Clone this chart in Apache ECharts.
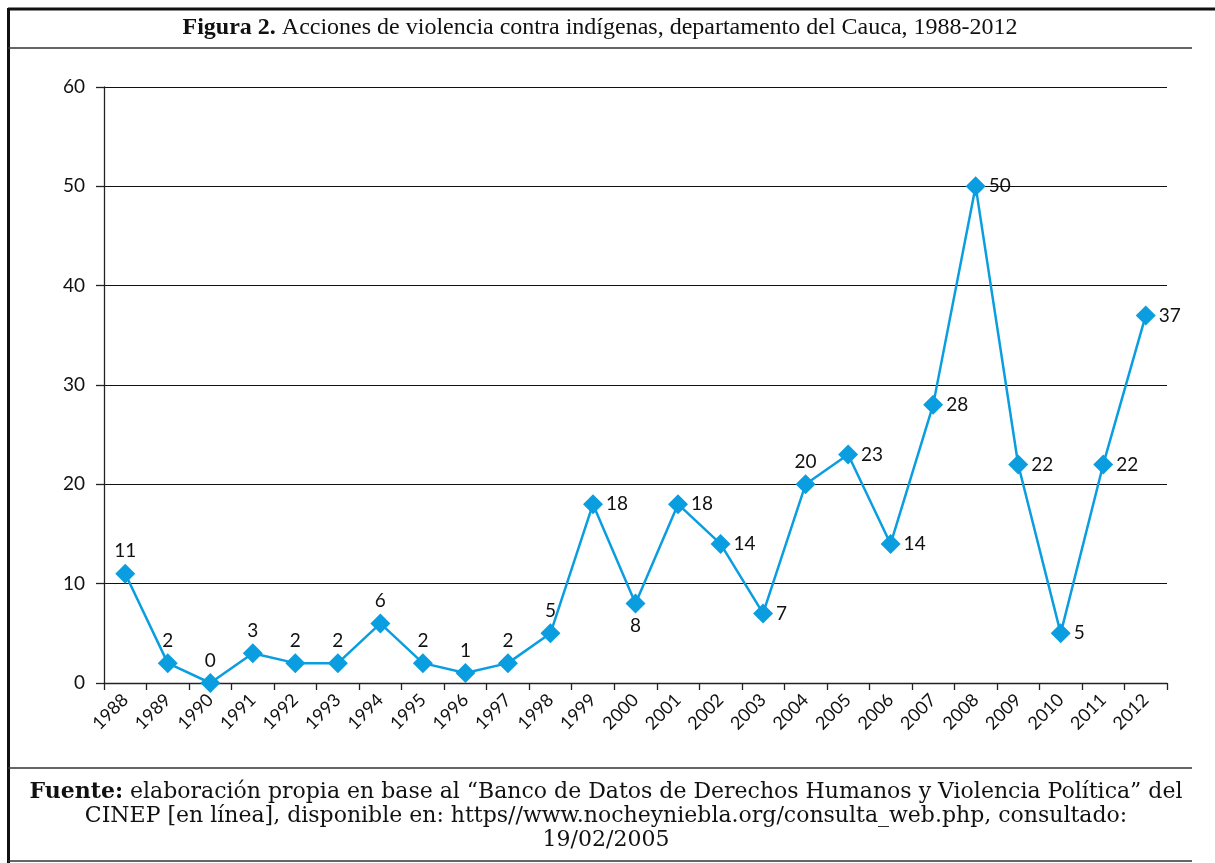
<!DOCTYPE html>
<html><head><meta charset="utf-8">
<script src="https://cdn.jsdelivr.net/npm/echarts@6/dist/echarts.min.js"></script>
<style>html,body{margin:0;padding:0;background:#fff}#c{width:1215px;height:863px}</style>
</head><body><div id="c"></div>
<script>
const years = ['1988','1989','1990','1991','1992','1993','1994','1995','1996','1997','1998','1999','2000','2001','2002','2003','2004','2005','2006','2007','2008','2009','2010','2011','2012'];
const acciones = [11,2,0,3,2,2,6,2,1,2,5,18,8,18,14,7,20,23,14,28,50,22,5,22,37];
const labelSide = ['top','top','top','top','top','top','top','top','top','top','top','right','bottom','right','right','right','top','right','right','right','right','right','right','right','right'];
const yTicks = [0,10,20,30,40,50,60];

const chart = echarts.init(document.getElementById('c'), null, {renderer:'canvas'});
const blue = '#0a9ee0';
const sans = 'Lato, "Open Sans", sans-serif';
chart.setOption({
  animation:false,
  backgroundColor:'#fff',
  grid:{left:104, right:48, top:87, bottom:180, containLabel:false},
  xAxis:{type:'category', data:years, boundaryGap:true,
    axisLine:{show:true, lineStyle:{color:'#222', width:1.3}},
    axisTick:{show:true, length:7, lineStyle:{color:'#222', width:1.3}},
    axisLabel:{rotate:45, fontSize:18, color:'#111', fontFamily:sans, margin:14, interval:0}},
  yAxis:{type:'value', min:yTicks[0], max:yTicks[yTicks.length-1], interval:10,
    axisLine:{show:true, lineStyle:{color:'#222', width:1.3}},
    axisTick:{show:true, length:8, lineStyle:{color:'#222', width:1.3}},
    splitLine:{show:true, lineStyle:{color:'#111', width:1.2}},
    axisLabel:{fontSize:19, color:'#111', fontFamily:sans, margin:19}},
  series:[{type:'line', data:acciones.map((v,i)=>({value:v, label:{position:labelSide[i]}})),
    symbol:'diamond', symbolSize:20, lineStyle:{color:blue, width:2.5},
    itemStyle:{color:blue},
    label:{show:true, fontSize:19, color:'#111', fontFamily:sans, distance:3}}],
  graphic:[
    {type:'line', shape:{x1:8, y1:9, x2:1215, y2:9}, style:{stroke:'#111', lineWidth:3}},
    {type:'line', shape:{x1:8.5, y1:8, x2:8.5, y2:863}, style:{stroke:'#111', lineWidth:3}},
    {type:'line', shape:{x1:8, y1:48, x2:1192, y2:48}, style:{stroke:'#333', lineWidth:1.5}},
    {type:'line', shape:{x1:8, y1:768, x2:1192, y2:768}, style:{stroke:'#333', lineWidth:1.5}},
    {type:'line', shape:{x1:8, y1:861, x2:1192, y2:861}, style:{stroke:'#333', lineWidth:1.5}},
    {type:'text', x:600, y:16, style:{
      text:'{b|Figura 2.} Acciones de violencia contra indígenas, departamento del Cauca, 1988-2012',
      font:'24px "Liberation Serif"', fill:'#111', align:'center',
      rich:{b:{fontWeight:'bold', fontSize:24, fontFamily:'Liberation Serif'}}}},
    {type:'text', x:606, y:780, style:{
      text:'{b|Fuente:} elaboración propia en base al “Banco de Datos de Derechos Humanos y Violencia Política” del\nCINEP [en línea], disponible en: https//www.nocheyniebla.org/consulta_web.php, consultado:\n19/02/2005',
      font:'22px "DejaVu Serif"', fill:'#111', align:'center', lineHeight:24,
      rich:{b:{fontWeight:'bold', fontSize:22, fontFamily:'DejaVu Serif', lineHeight:24}}}}
  ]
});
</script></body></html>
